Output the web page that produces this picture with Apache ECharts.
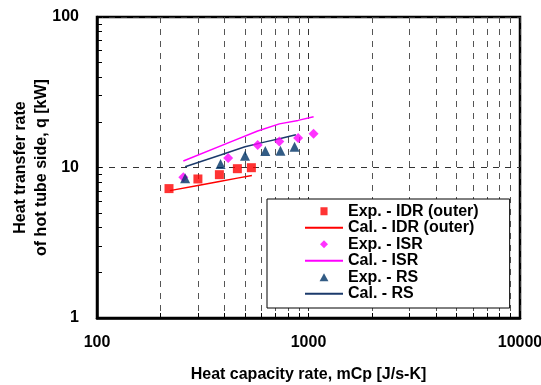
<!DOCTYPE html>
<html><head><meta charset="utf-8">
<script src="https://cdn.jsdelivr.net/npm/echarts@6/dist/echarts.min.js"></script>
<style>html,body{margin:0;padding:0;background:#fff}#c{width:541px;height:385px}</style>
</head><body><div id="c"></div>
<script>
// ---- data ----
const xTickValues = [100, 1000, 10000];
const xTickLabels = ['100', '1000', '10000'];
const yTickValues = [1, 10, 100];
const yTickLabels = ['1', '10', '100'];

const seriesNames = ['Exp. - IDR (outer)', 'Cal. - IDR (outer)', 'Exp. - ISR', 'Cal. - ISR', 'Exp. - RS', 'Cal. - RS'];

const expIDR_x = [219, 300, 379, 461, 537];
const expIDR_y = [7.24, 8.39, 8.96, 9.82, 9.97];
const calIDR_x = [221, 300, 379, 461, 540];
const calIDR_y = [7.02, 7.60, 8.08, 8.50, 8.85];

const expISR_x = [256, 417, 575, 728, 893, 1057];
const expISR_y = [8.61, 11.56, 14.09, 14.91, 15.68, 16.74];
const calISR_x = [256, 417, 575, 728, 893, 1057];
const calISR_y = [11.04, 14.58, 17.49, 19.49, 20.56, 21.73];

const expRS_x = [261, 384, 501, 625, 737, 859];
const expRS_y = [8.48, 10.55, 11.97, 12.86, 12.90, 13.73];
const calRS_x = [261, 384, 501, 625, 737, 872];
const calRS_y = [10.12, 12.12, 13.74, 14.80, 15.60, 16.50];

// ---- chart ----
const zip = (xs, ys) => xs.map((x, i) => [x, ys[i]]);
const FONT = 'Liberation Sans';
const dash = [6, 6];
const lookup = (vals, labels) => v => {
  const i = vals.findIndex(t => Math.abs(t - v) / t < 1e-6);
  return i >= 0 ? labels[i] : '';
};
// legend marker icons: small centred marker inside the full 38x8 legend icon box
const pad = ' M0,4L0,4 M38,4L38,4';
const markerIcons = {
  0: 'path://M15,-0.5L23,-0.5L23,8.5L15,8.5Z' + pad,
  2: 'path://M19,-1L24,4L19,9L14,4Z' + pad,
  4: 'path://M19,-0.5L24,8.5L14,8.5Z' + pad
};

const chart = echarts.init(document.getElementById('c'), null, {renderer: 'canvas'});
chart.setOption({
  animation: false,
  backgroundColor: '#fff',
  textStyle: {fontFamily: FONT},
  grid: {left: 97, right: 21, top: 17, bottom: 67, outerBoundsMode: 'none', containLabel: false,
         show: true, borderColor: '#000', borderWidth: 2.5, backgroundColor: 'transparent'},
  xAxis: {
    type: 'log', logBase: 10, min: 100, max: 10000,
    name: 'Heat capacity rate, mCp [J/s-K]', nameLocation: 'middle', nameGap: 49, nameMoveOverlap: false,
    nameTextStyle: {fontFamily: FONT, fontWeight: 'bold', fontSize: 16, lineHeight: 16, color: '#000'},
    axisLine: {show: true, lineStyle: {color: '#000', width: 2.5}},
    axisTick: {show: true, inside: true, length: 5, lineStyle: {color: '#000', width: 1}},
    minorTick: {show: true, splitNumber: 9, length: 5, lineStyle: {color: '#000', width: 1}},
    axisLabel: {margin: 17, fontFamily: FONT, fontWeight: 'bold', fontSize: 16, lineHeight: 16, color: '#000', formatter: lookup(xTickValues, xTickLabels)},
    splitLine: {show: true, lineStyle: {color: '#333', width: 1, type: dash}},
    minorSplitLine: {show: true, lineStyle: {color: '#555', width: 1, type: dash}}
  },
  yAxis: {
    type: 'log', logBase: 10, min: 1, max: 100,
    name: 'Heat transfer rate\nof hot tube side, q [kW]', nameLocation: 'middle', nameGap: 45, nameMoveOverlap: false,
    nameTextStyle: {fontFamily: FONT, fontWeight: 'bold', fontSize: 16, lineHeight: 21, color: '#000'},
    axisLine: {show: true, lineStyle: {color: '#000', width: 2.5}},
    axisTick: {show: true, inside: true, length: 5, lineStyle: {color: '#000', width: 1}},
    minorTick: {show: true, splitNumber: 9, length: 5, lineStyle: {color: '#000', width: 1}},
    axisLabel: {margin: 18, fontFamily: FONT, fontWeight: 'bold', fontSize: 16, color: '#000', formatter: lookup(yTickValues, yTickLabels)},
    splitLine: {show: true, lineStyle: {color: '#333', width: 1, type: dash}},
    minorSplitLine: {show: false}
  },
  legend: {
    orient: 'vertical', left: 267, top: 199,
    padding: [4, 31, 6, 37], itemGap: 0, itemWidth: 38, itemHeight: 8,
    backgroundColor: '#fff', borderColor: '#000', borderWidth: 1, borderRadius: 0,
    textStyle: {fontFamily: FONT, fontWeight: 'bold', fontSize: 16, lineHeight: 16.5, color: '#000'},
    data: seriesNames.map((n, i) => markerIcons[i]
      ? {name: n, icon: markerIcons[i]}
      : {name: n, itemStyle: {opacity: 0, color: 'rgba(0,0,0,0)'}})
  },
  series: [
    {name: seriesNames[0], type: 'scatter', data: zip(expIDR_x, expIDR_y), symbol: 'rect', symbolSize: 9, itemStyle: {color: '#ff0000'}, z: 5},
    {name: seriesNames[1], type: 'line', data: zip(calIDR_x, calIDR_y), symbol: 'none', showSymbol: false, lineStyle: {color: '#ff0000', width: 1.5}, itemStyle: {color: '#ff0000'}, z: 3},
    {name: seriesNames[2], type: 'scatter', data: zip(expISR_x, expISR_y), symbol: 'diamond', symbolSize: 10, itemStyle: {color: '#ff00ff'}, z: 5},
    {name: seriesNames[3], type: 'line', data: zip(calISR_x, calISR_y), symbol: 'none', showSymbol: false, lineStyle: {color: '#ff00ff', width: 1.5}, itemStyle: {color: '#ff00ff'}, z: 3},
    {name: seriesNames[4], type: 'scatter', data: zip(expRS_x, expRS_y), symbol: 'triangle', symbolSize: 10, itemStyle: {color: '#003366'}, z: 5},
    {name: seriesNames[5], type: 'line', data: zip(calRS_x, calRS_y), symbol: 'none', showSymbol: false, lineStyle: {color: '#1b3a6b', width: 1.5}, itemStyle: {color: '#1b3a6b'}, z: 3}
  ]
});
</script>
</body></html>
